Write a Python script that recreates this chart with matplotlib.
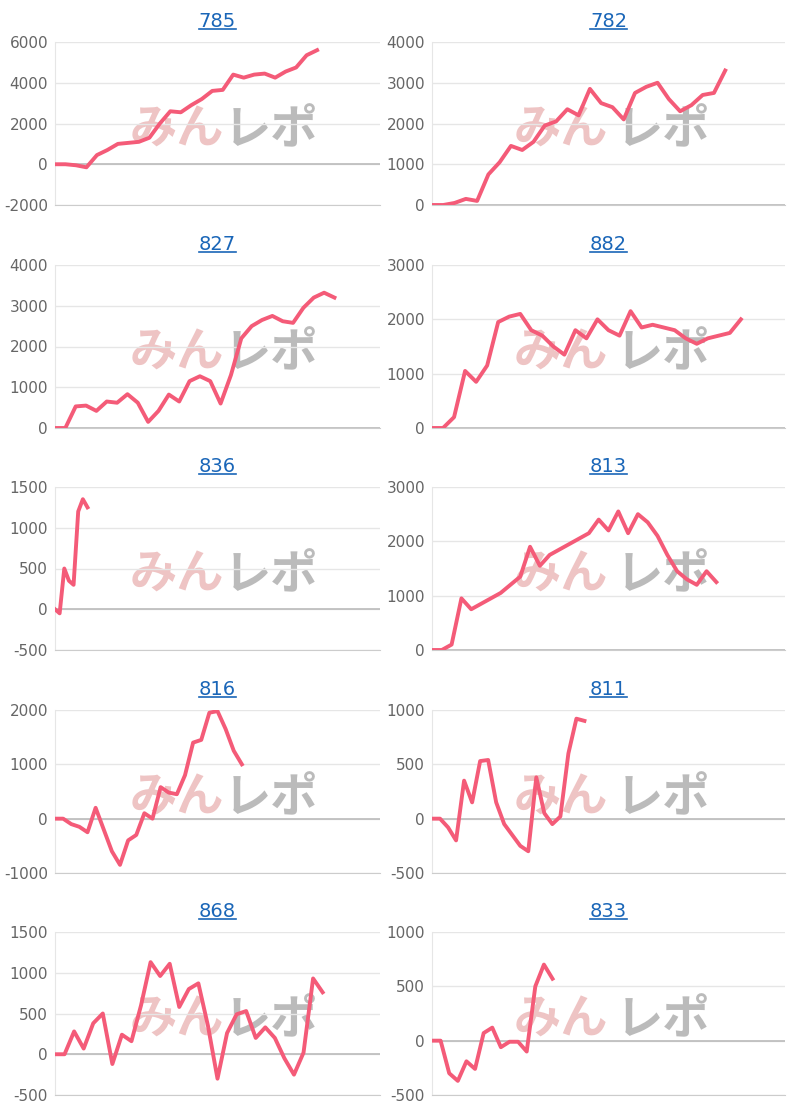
import matplotlib.pyplot as plt
from matplotlib.ticker import MultipleLocator

plt.rcParams['axes.unicode_minus'] = False

titles = ['785', '782', '827', '882', '836', '813', '816', '811', '868', '833']

v785 = [0, 0, -50, -150, 450, 700, 1000, 1050, 1100, 1300, 2000, 2600, 2550, 2900, 3200,
        3600, 3650, 4400, 4250, 4400, 4450, 4250, 4550, 4750, 5350, 5600]
v782 = [0, 0, 50, 150, 100, 750, 1050, 1450, 1350, 1550, 1950, 2050, 2350, 2200, 2850,
        2500, 2400, 2100, 2750, 2900, 3000, 2600, 2300, 2450, 2700, 2750, 3300]
v827 = [0, 0, 530, 550, 420, 650, 620, 830, 620, 150, 420, 820, 650, 1150, 1270, 1150,
        600, 1300, 2200, 2500, 2650, 2750, 2620, 2580, 2950, 3200, 3320, 3200]
v882 = [0, 0, 200, 1050, 850, 1150, 1950, 2050, 2100, 1800, 1700, 1500, 1350, 1800, 1650,
        2000, 1800, 1700, 2150, 1850, 1900, 1850, 1800, 1650, 1550, 1650, 1700, 1750, 2000]
v836 = [0, -50, 500, 350, 300, 1200, 1350, 1250]
v813 = [0, 0, 100, 950, 750, 850, 950, 1050, 1200, 1350, 1900, 1550, 1750, 1850, 1950,
        2050, 2150, 2400, 2200, 2550, 2150, 2500, 2350, 2100, 1750, 1450, 1300, 1200, 1450, 1250]
v816 = [0, 0, -100, -150, -250, 200, -200, -600, -850, -400, -300, 100, 0, 580, 480, 450,
        800, 1400, 1450, 1950, 1980, 1650, 1250, 1000]
v811 = [0, 0, -80, -200, 350, 150, 530, 540, 150, -50, -150, -250, -300, 380, 50, -50,
        20, 600, 920, 900]
v868 = [0, 0, 280, 70, 380, 500, -120, 240, 160, 600, 1130, 960, 1110, 580, 800, 870,
        350, -300, 260, 490, 530, 200, 330, 200, -50, -250, 20, 930, 760]
v833 = [0, 0, -300, -370, -190, -260, 70, 120, -60, -10, -10, -100, 500, 700, 570]

series = [v785, v782, v827, v882, v836, v813, v816, v811, v868, v833]
days = [31, 31.3, 31.4, 32, 70, 36, 40, 44, 34, 41]
ylims = [(-2000, 6000), (0, 4000), (0, 4000), (0, 3000), (-500, 1500),
         (0, 3000), (-1000, 2000), (-500, 1000), (-500, 1500), (-500, 1000)]
steps = [2000, 1000, 1000, 1000, 500, 1000, 1000, 500, 500, 500]

fig = plt.figure(figsize=(8.1, 11.1), dpi=100)
W, H = 810, 1110
tops = [42, 265, 487, 710, 932]
ph = 163
for i in range(10):
    row, col = i // 2, i % 2
    left = 55 if col == 0 else 432
    right = 380 if col == 0 else 785
    ax = fig.add_axes([left / W, 1 - (tops[row] + ph) / H, (right - left) / W, ph / H])
    vals = series[i]
    ax.plot(range(len(vals)), vals, color='#f45b78', lw=2.8, zorder=3)
    ax.set_xlim(0, days[i])
    ax.set_ylim(*ylims[i])
    ax.yaxis.set_major_locator(MultipleLocator(steps[i]))
    ax.grid(axis='y', color='#e6e6e6', lw=1)
    ax.axhline(0, color='#bbbbbb', lw=1.2, zorder=2)
    ax.set_xticks([])
    ax.tick_params(axis='y', length=0, labelsize=11, labelcolor='#666666', pad=5)
    for s in ['top', 'right']:
        ax.spines[s].set_visible(False)
    ax.spines['left'].set_color('#e6e6e6')
    ax.spines['bottom'].set_color('#cccccc')
    ax.set_title(titles[i], color='#1a66b8', fontsize=14, pad=11)
    # watermark
    ax.text(0.23, 0.46, 'みん', transform=ax.transAxes, fontsize=34, color='#e9b0b0',
            alpha=0.75, fontweight='bold', style='italic', family=['Noto Sans CJK JP'],
            va='center', ha='left', zorder=1)
    ax.text(0.52, 0.46, 'レポ', transform=ax.transAxes, fontsize=34, color='#b0b0b0',
            alpha=0.85, fontweight='bold', style='italic', family=['Noto Sans CJK JP'],
            va='center', ha='left', zorder=1)

# underline the titles like links
fig.canvas.draw()
inv = fig.transFigure.inverted()
for ax in fig.axes:
    bb = ax.title.get_window_extent()
    (x0, y0), (x1, y1) = inv.transform([(bb.x0, bb.y0), (bb.x1, bb.y1)])
    fig.add_artist(plt.Line2D([x0, x1], [y0 + 0.002, y0 + 0.002], color='#1a66b8', lw=1.2))

plt.savefig('out.png', dpi=100)
